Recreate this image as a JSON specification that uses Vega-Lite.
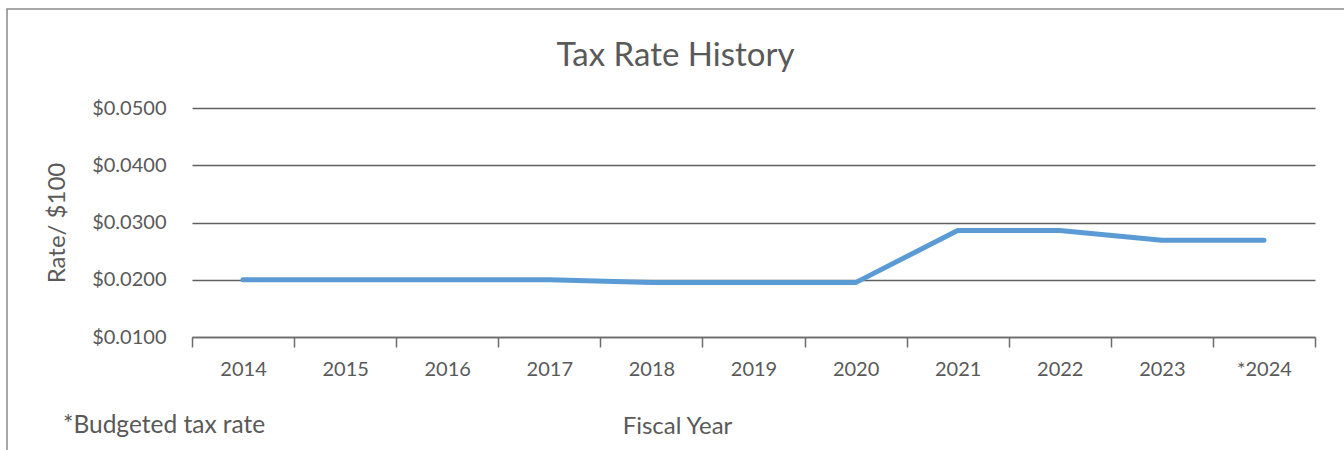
{
  "$schema": "https://vega.github.io/schema/vega-lite/v6.json",
  "width": 1123,
  "height": 229,
  "autosize": {"type": "none"},
  "padding": {"left": 192, "top": 108, "right": 29, "bottom": 113},
  "background": "white",
  "config": {
    "font": "Lato",
    "view": {"stroke": null},
    "axis": {"labelColor": "#595959", "titleColor": "#595959", "labelFont": "Lato", "titleFont": "Lato", "titleFontWeight": "normal"}
  },
  "title": {
    "text": "Tax Rate History",
    "fontSize": 33,
    "font": "Lato",
    "fontWeight": "normal",
    "color": "#595959",
    "anchor": "middle",
    "baseline": "alphabetic",
    "offset": -91,
    "dx": -78
  },
  "datasets": {
    "rates": [
      {"year": "2014", "rate": 0.0200},
      {"year": "2015", "rate": 0.0200},
      {"year": "2016", "rate": 0.0200},
      {"year": "2017", "rate": 0.0200},
      {"year": "2018", "rate": 0.0195},
      {"year": "2019", "rate": 0.0195},
      {"year": "2020", "rate": 0.0195},
      {"year": "2021", "rate": 0.0286},
      {"year": "2022", "rate": 0.0286},
      {"year": "2023", "rate": 0.0269},
      {"year": "*2024", "rate": 0.0269}
    ],
    "notes": [{"note": "*Budgeted tax rate"}]
  },
  "layer": [
    {
      "data": {"name": "rates"},
      "mark": {"type": "line", "color": "#5B9BD5", "strokeWidth": 5, "strokeCap": "round", "strokeJoin": "round"},
      "encoding": {
        "x": {
          "field": "year",
          "type": "nominal",
          "sort": null,
          "bandPosition": 0.5,
          "scale": {"type": "band", "paddingInner": 0, "paddingOuter": 0},
          "axis": {
            "title": "Fiscal Year",
            "titleFontSize": 24,
            "titlePadding": 35,
            "titleX": 485,
            "titleAnchor": "middle",
            "labelFontSize": 20,
            "labelAngle": 0,
            "labelPadding": 12,
            "tickBand": "extent",
            "tickSize": 10,
            "tickColor": "#6b6b6b",
            "tickWidth": 1.5,
            "domainColor": "#6b6b6b",
            "domainWidth": 1.5,
            "grid": false
          }
        },
        "y": {
          "field": "rate",
          "type": "quantitative",
          "scale": {"domain": [0.01, 0.05], "nice": false, "zero": false},
          "axis": {
            "title": "Rate/ $100",
            "titleFontSize": 24,
            "titlePadding": 22,
            "labelFontSize": 20,
            "labelPadding": 26,
            "values": [0.01, 0.02, 0.03, 0.04, 0.05],
            "format": "$.4f",
            "ticks": false,
            "tickSize": 0,
            "domain": false,
            "grid": true,
            "gridColor": "#5f5f5f",
            "gridWidth": 1.3
          }
        }
      }
    },
    {
      "data": {"name": "notes"},
      "mark": {"type": "text", "align": "left", "baseline": "alphabetic", "fontSize": 24.5, "font": "Lato", "color": "#595959", "dx": -129, "dy": 96},
      "encoding": {
        "x": {"datum": "2014", "bandPosition": 0},
        "y": {"datum": 0.01},
        "text": {"field": "note"}
      }
    },
    {
      "data": {"name": "notes"},
      "mark": {"type": "rect", "fill": null, "filled": false, "stroke": "#8a8a8a", "strokeWidth": 1.5, "xOffset": -185, "x2Offset": 130, "yOffset": -99, "y2Offset": 120},
      "encoding": {
        "x": {"datum": "2014", "bandPosition": 0},
        "x2": {"datum": "*2024"},
        "y": {"datum": 0.05},
        "y2": {"datum": 0.01}
      }
    }
  ]
}
